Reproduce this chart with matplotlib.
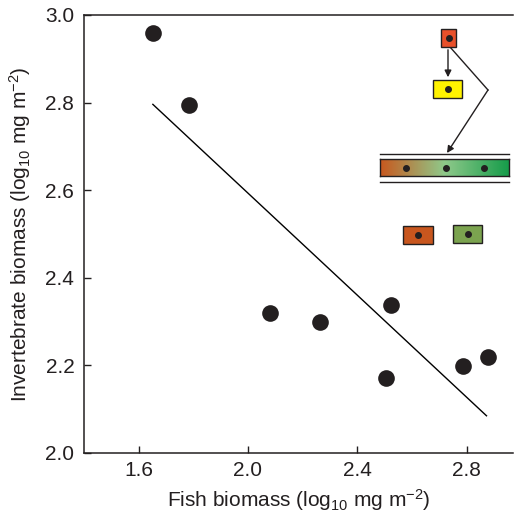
import numpy as np
import matplotlib.pyplot as plt
from matplotlib.patches import Rectangle, FancyArrowPatch
from matplotlib.colors import LinearSegmentedColormap

plt.rcParams['font.family'] = ['Liberation Sans', 'DejaVu Sans']
plt.rcParams['mathtext.fontset'] = 'custom'
plt.rcParams['mathtext.rm'] = 'Liberation Sans'
plt.rcParams['mathtext.it'] = 'Liberation Sans'

# fish vs invertebrate biomass (log10 mg m^-2)
fish = [1.652, 1.784, 2.080, 2.263, 2.522, 2.504, 2.786, 2.877]
invert = [2.959, 2.794, 2.320, 2.300, 2.337, 2.172, 2.199, 2.220]
fit_x = [1.652, 2.873]
fit_y = [2.796, 2.085]

xticks = [1.6, 2.0, 2.4, 2.8]
yticks = [2.0, 2.2, 2.4, 2.6, 2.8, 3.0]

W = H = 514
fig = plt.figure(figsize=(5.14, 5.14), dpi=100)
ax = fig.add_axes([84 / W, (W - 453) / W, (513 - 84) / W, (453 - 15) / H])

ax.scatter(fish, invert, s=12 ** 2, color='#231f20', zorder=3, linewidths=0)
ax.plot(fit_x, fit_y, color='black', lw=1.0)

ax.set_xlim(1.4, 2.97)
ax.set_ylim(2.0, 3.0)
ax.set_xticks(xticks)
ax.set_yticks(yticks)
ax.set_xticklabels([f'{v:.1f}' for v in xticks])
ax.set_yticklabels([f'{v:.1f}' for v in yticks])
ax.tick_params(direction='in', length=5, width=1, labelsize=15, pad=7,
               colors='#231f20')
ax.tick_params(axis='x', pad=6)
ax.spines['right'].set_visible(False)
for s in ['left', 'bottom', 'top']:
    ax.spines[s].set_linewidth(1.1)
    ax.spines[s].set_color('#231f20')

ax.set_xlabel('Fish biomass (log$_{10}$ mg m$^{-2}$)', fontsize=15,
              color='#231f20', labelpad=5)
ax.set_ylabel('Invertebrate biomass (log$_{10}$ mg m$^{-2}$)', fontsize=15,
              color='#231f20', labelpad=9)


# ---------------------------------------------------------------
# food-web schematic (pixel positions -> figure fraction)
# ---------------------------------------------------------------
def fx(px):
    return px / W


def fy(py):
    return 1 - py / H


def box(x0, y0, x1, y1, color, dot_x=None):
    fig.add_artist(Rectangle((fx(x0), fy(y1)), fx(x1) - fx(x0), fy(y0) - fy(y1),
                             transform=fig.transFigure, facecolor=color,
                             edgecolor='#231f20', lw=1.0, zorder=4))
    cx = (x0 + x1) / 2 if dot_x is None else dot_x
    fig.add_artist(plt.Line2D([fx(cx)], [fy((y0 + y1) / 2)], marker='o',
                              markersize=4, color='#231f20',
                              transform=fig.transFigure, zorder=5))


box(441, 29, 456, 47, '#e8502a')
box(433, 80, 462, 98, '#fff200')
box(403, 226, 433, 244, '#c8561e')
box(453, 225, 482, 243, '#7ba34f')

# gradient bar
cmap = LinearSegmentedColormap.from_list('g', ['#c8581e', '#8fc98a', '#169c4a'])
grad = np.linspace(0, 1, 256).reshape(1, -1)
gax = fig.add_axes([fx(380), fy(176), fx(509) - fx(380), fy(159) - fy(176)])
gax.imshow(grad, aspect='auto', cmap=cmap, extent=[0, 1, 0, 1])
gax.set_xticks([])
gax.set_yticks([])
for s in gax.spines.values():
    s.set_linewidth(1.0)
    s.set_color('#231f20')
for dx in [406, 446, 484]:
    fig.add_artist(plt.Line2D([fx(dx)], [fy(168)], marker='o', markersize=4,
                              color='#231f20', transform=fig.transFigure, zorder=6))

for ly in [154, 182]:
    fig.add_artist(plt.Line2D([fx(380), fx(509)], [fy(ly), fy(ly)], lw=1.0,
                              color='#231f20', transform=fig.transFigure))

# arrows
fig.add_artist(FancyArrowPatch((fx(448), fy(47)), (fx(448), fy(80)),
                               transform=fig.transFigure, arrowstyle='-|>',
                               mutation_scale=10, lw=1.0, color='#231f20'))
fig.add_artist(plt.Line2D([fx(450), fx(488)], [fy(47), fy(90)], lw=1.0,
                          color='#231f20', transform=fig.transFigure))
fig.add_artist(FancyArrowPatch((fx(488), fy(90)), (fx(447), fy(153)),
                               transform=fig.transFigure, arrowstyle='-|>',
                               mutation_scale=10, lw=1.0, color='#231f20',
                               shrinkA=0, shrinkB=0))

fig.savefig('out.png', dpi=100)
